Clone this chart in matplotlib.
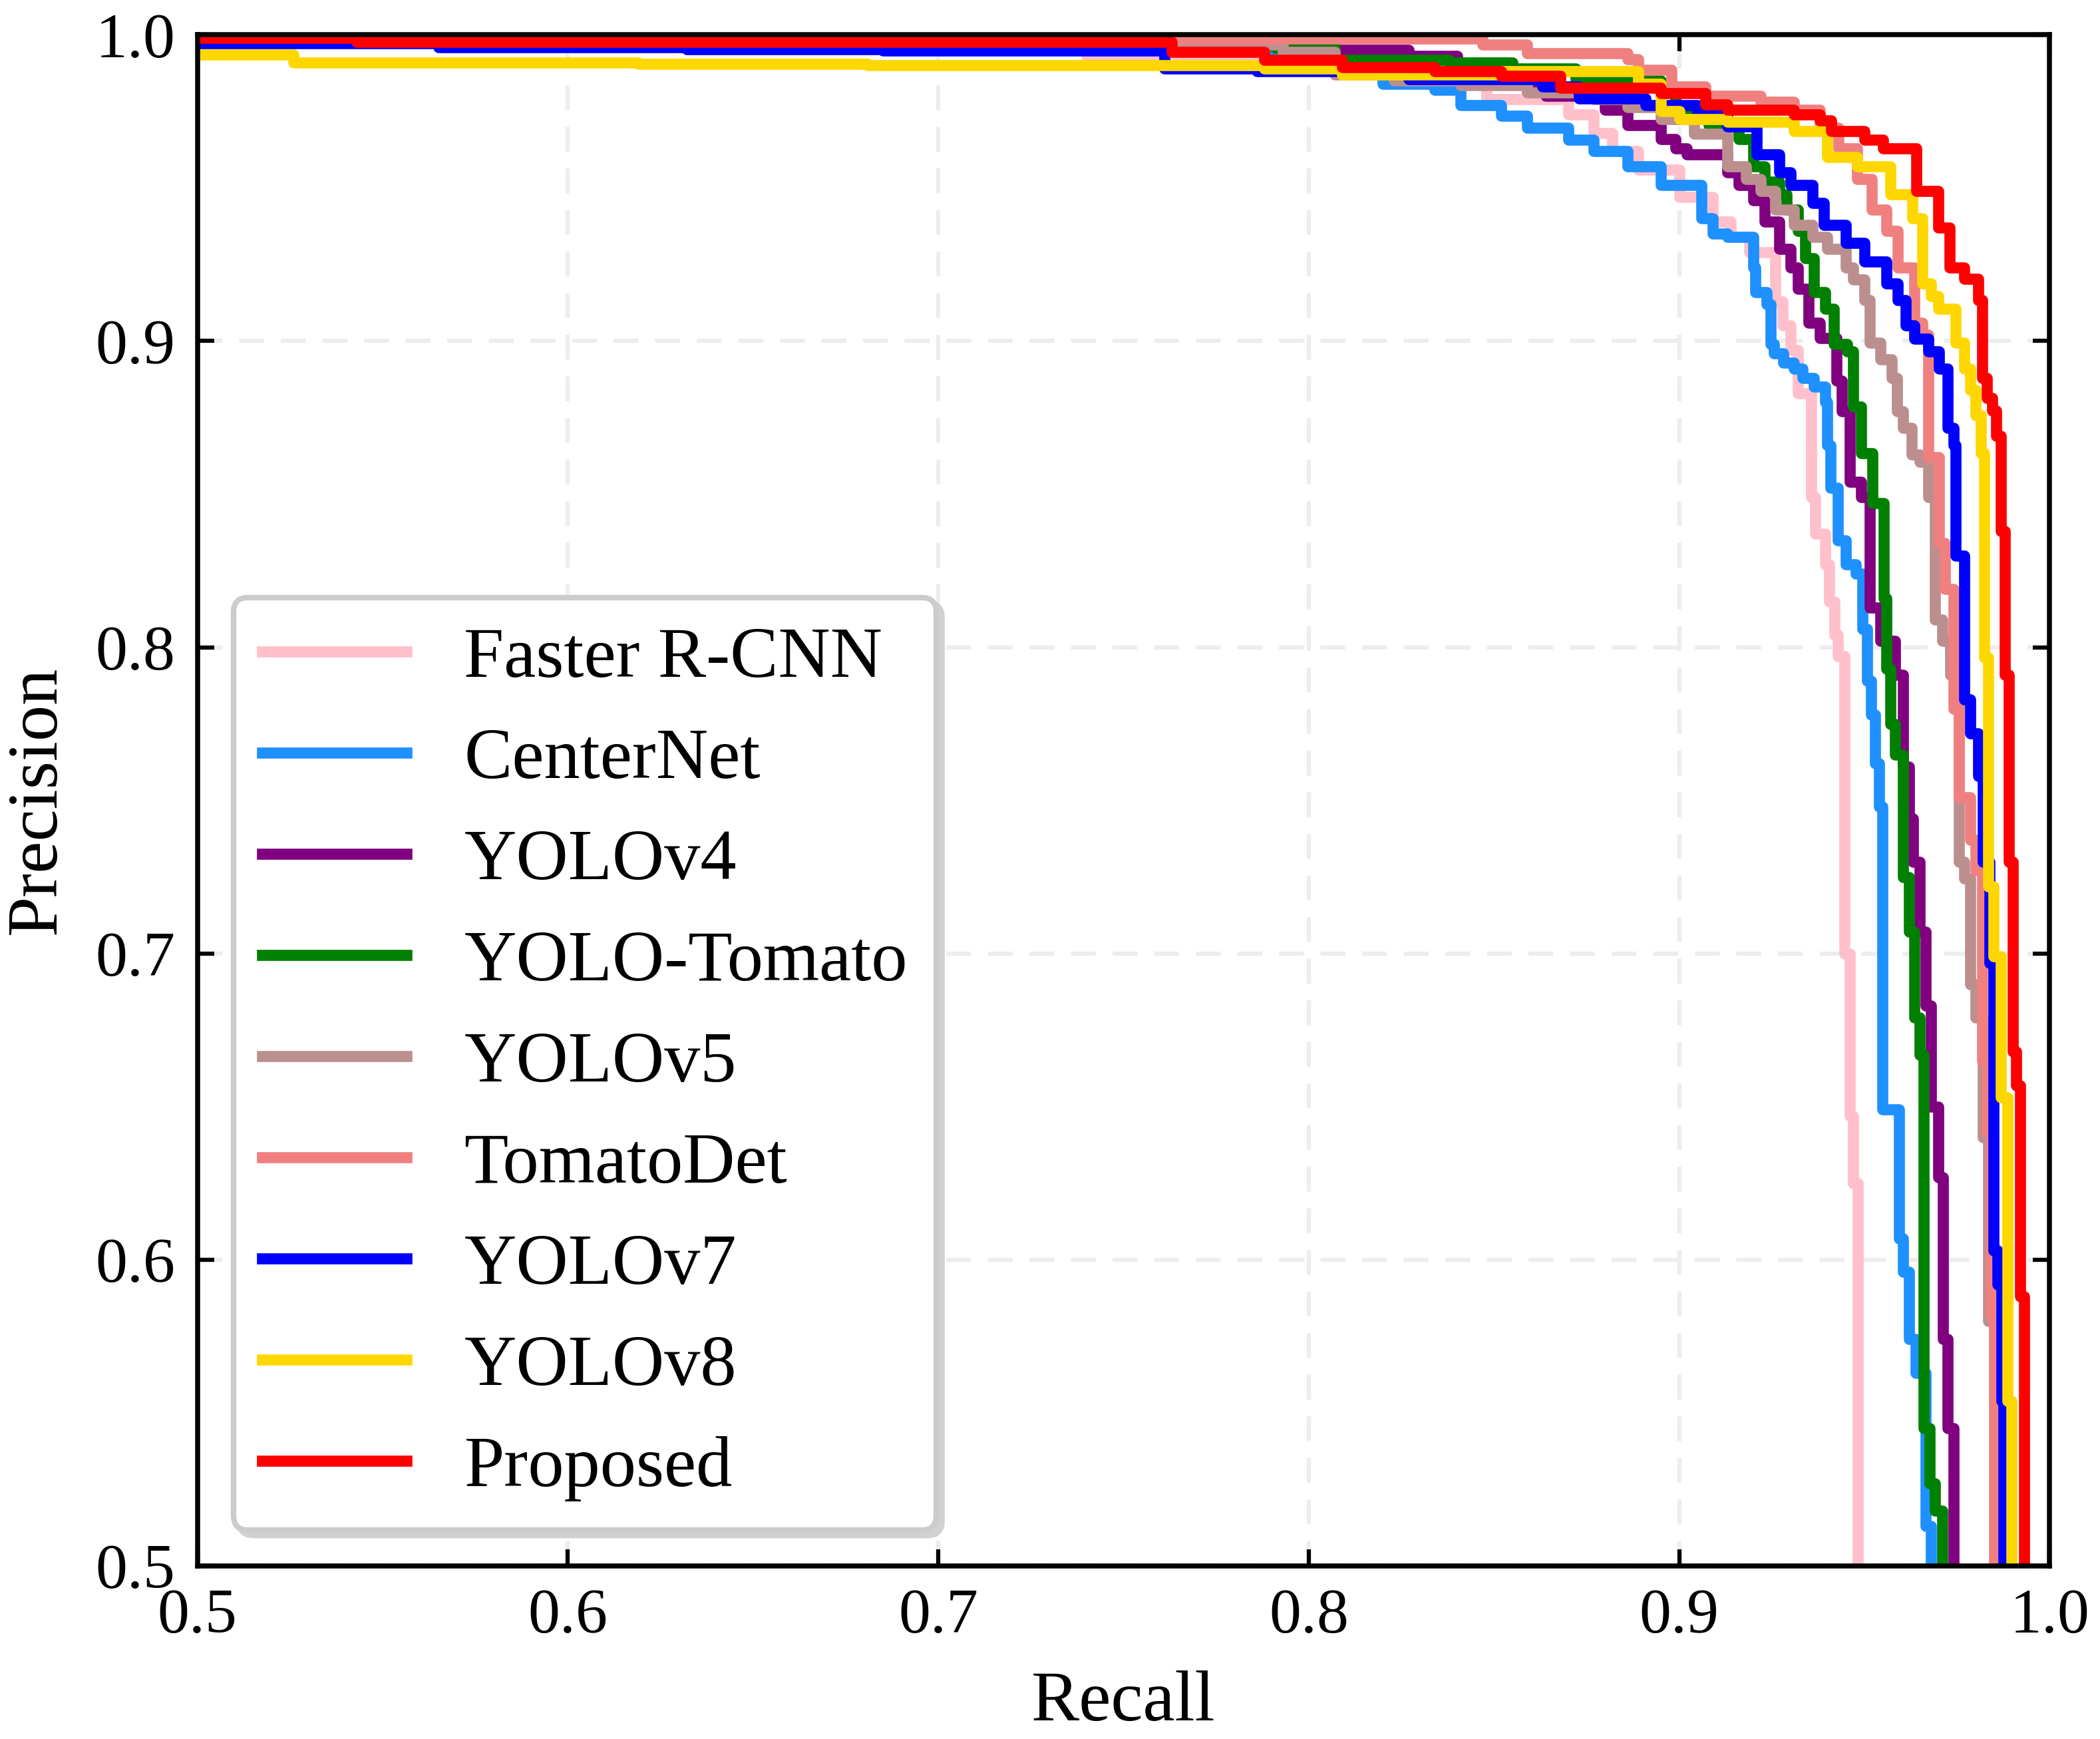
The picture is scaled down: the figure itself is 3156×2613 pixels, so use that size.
import matplotlib
matplotlib.use('Agg')
import matplotlib.pyplot as plt

plt.rcParams['font.family'] = ['Liberation Serif', 'DejaVu Serif']

# (recall, precision) step points
faster_r = [0.40, 0.66, 0.74, 0.80, 0.83, 0.848, 0.870, 0.877, 0.882, 0.889, 0.900, 0.909, 0.914, 0.919, 0.926, 0.928,
            0.930, 0.932, 0.9356, 0.9368, 0.9394, 0.9405, 0.942, 0.9428, 0.9447, 0.946, 0.9469, 0.9482]
faster_p = [1.0, 0.997, 0.993, 0.988, 0.984, 0.979, 0.974, 0.968, 0.962, 0.956, 0.947, 0.939, 0.934, 0.929, 0.913, 0.905,
            0.897, 0.883, 0.849, 0.837, 0.827, 0.815, 0.804, 0.797, 0.700, 0.647, 0.625, 0.45]

center_r = [0.40, 0.62, 0.74, 0.79, 0.80, 0.81, 0.82, 0.834, 0.841, 0.852, 0.859, 0.870, 0.877, 0.886, 0.895, 0.906,
            0.909, 0.913, 0.920, 0.9206, 0.9236, 0.9247, 0.9255, 0.9281, 0.931, 0.9334, 0.9364, 0.9394, 0.940, 0.9409,
            0.9428, 0.945, 0.9477, 0.9495, 0.9507, 0.9518, 0.9529, 0.954, 0.9548, 0.9593, 0.9604, 0.962, 0.9638,
            0.9665, 0.968]
center_p = [0.999, 0.997, 0.995, 0.992, 0.989, 0.987, 0.984, 0.982, 0.977, 0.9735, 0.9696, 0.9657, 0.962, 0.957, 0.951,
            0.940, 0.935, 0.934, 0.924, 0.916, 0.912, 0.899, 0.896, 0.893, 0.891, 0.888, 0.885, 0.880, 0.866, 0.852,
            0.835, 0.827, 0.824, 0.806, 0.789, 0.778, 0.762, 0.748, 0.649, 0.607, 0.596, 0.574, 0.563, 0.513, 0.45]

v4_r = [0.40, 0.70, 0.768, 0.786, 0.800, 0.807, 0.827, 0.840, 0.850, 0.859, 0.864, 0.880, 0.886, 0.895, 0.899, 0.902,
        0.913, 0.916, 0.920, 0.923, 0.927, 0.930, 0.932, 0.935, 0.938, 0.9424, 0.9439, 0.946, 0.9491, 0.9514, 0.9544,
        0.9582, 0.9605, 0.962, 0.9631, 0.965, 0.9665, 0.968, 0.970, 0.9713, 0.9725, 0.974]
v4_p = [1.0, 0.999, 0.9977, 0.9967, 0.996, 0.995, 0.993, 0.989, 0.985, 0.982, 0.980, 0.9754, 0.9705, 0.966, 0.963, 0.961,
        0.955, 0.951, 0.946, 0.939, 0.930, 0.924, 0.917, 0.906, 0.901, 0.887, 0.877, 0.854, 0.849, 0.813, 0.802,
        0.791, 0.761, 0.744, 0.730, 0.707, 0.683, 0.650, 0.627, 0.574, 0.545, 0.45]

tomato_r = [0.40, 0.60, 0.66, 0.72, 0.791, 0.807, 0.838, 0.855, 0.872, 0.881, 0.895, 0.899, 0.904, 0.908, 0.916, 0.920,
            0.923, 0.927, 0.929, 0.932, 0.934, 0.9364, 0.9394, 0.9417, 0.9454, 0.947, 0.9492, 0.9522, 0.9552, 0.956,
            0.9571, 0.9582, 0.9605, 0.962, 0.9635, 0.965, 0.966, 0.9676, 0.969, 0.971]
tomato_p = [1.0, 0.999, 0.9975, 0.9965, 0.9958, 0.9919, 0.991, 0.989, 0.9856, 0.985, 0.982, 0.976, 0.9744, 0.9705, 0.966,
            0.957, 0.952, 0.948, 0.943, 0.936, 0.927, 0.916, 0.9105, 0.899, 0.8966, 0.8786, 0.8633, 0.847, 0.816, 0.793,
            0.775, 0.765, 0.725, 0.707, 0.679, 0.667, 0.545, 0.527, 0.518, 0.45]

v5_r = [0.40, 0.70, 0.763, 0.793, 0.807, 0.823, 0.841, 0.859, 0.877, 0.886, 0.895, 0.904, 0.913, 0.918, 0.922, 0.926,
        0.931, 0.936, 0.940, 0.945, 0.947, 0.950, 0.9514, 0.9544, 0.9574, 0.9589, 0.9605, 0.9627, 0.965, 0.9672, 0.969,
        0.971, 0.9732, 0.9755, 0.977, 0.9785, 0.980, 0.982, 0.9835, 0.9855]
v5_p = [1.0, 0.998, 0.9967, 0.9943, 0.987, 0.985, 0.9836, 0.9812, 0.979, 0.9764, 0.9725, 0.9676, 0.957, 0.953, 0.949, 0.943,
        0.938, 0.934, 0.930, 0.924, 0.920, 0.9133, 0.8994, 0.894, 0.888, 0.877, 0.8717, 0.863, 0.8606, 0.849, 0.809,
        0.802, 0.791, 0.730, 0.7246, 0.690, 0.679, 0.640, 0.580, 0.45]

tdet_r = [0.40, 0.734, 0.847, 0.859, 0.886, 0.889, 0.898, 0.907, 0.922, 0.931, 0.938, 0.943, 0.948, 0.952, 0.956, 0.959,
          0.9635, 0.9657, 0.9672, 0.9702, 0.9717, 0.974, 0.9755, 0.9785, 0.980, 0.9819, 0.983, 0.9841, 0.985]
tdet_p = [1.0, 0.9987, 0.9967, 0.994, 0.992, 0.9885, 0.983, 0.980, 0.978, 0.9754, 0.9696, 0.963, 0.953, 0.943, 0.936, 0.924,
          0.906, 0.902, 0.862, 0.834, 0.819, 0.780, 0.751, 0.737, 0.727, 0.665, 0.642, 0.582, 0.45]

v7_r = [0.40, 0.565, 0.632, 0.685, 0.761, 0.786, 0.827, 0.863, 0.873, 0.891, 0.905, 0.913, 0.921, 0.927, 0.930, 0.936,
        0.939, 0.945, 0.950, 0.9559, 0.959, 0.9612, 0.9635, 0.9672, 0.9702, 0.9725, 0.974, 0.9747, 0.977, 0.9785,
        0.9807, 0.982, 0.9837, 0.9849, 0.986, 0.9871, 0.9876]
v7_p = [0.9972, 0.996, 0.9952, 0.9948, 0.989, 0.988, 0.9856, 0.983, 0.9793, 0.977, 0.9744, 0.970, 0.961, 0.955, 0.951,
        0.945, 0.938, 0.932, 0.926, 0.9188, 0.9133, 0.905, 0.9008, 0.8966, 0.891, 0.8717, 0.866, 0.830, 0.783, 0.7718,
        0.758, 0.730, 0.697, 0.603, 0.592, 0.554, 0.45]

v8_r = [0.40, 0.526, 0.619, 0.681, 0.788, 0.809, 0.852, 0.889, 0.895, 0.900, 0.913, 0.931, 0.940, 0.948, 0.957, 0.963,
        0.9657, 0.968, 0.970, 0.9747, 0.977, 0.9785, 0.980, 0.9815, 0.9823, 0.9834, 0.9849, 0.9868, 0.9887, 0.9898]
v8_p = [0.9935, 0.991, 0.9905, 0.990, 0.989, 0.987, 0.988, 0.984, 0.975, 0.9725, 0.9715, 0.9686, 0.960, 0.957, 0.948, 0.940,
        0.9188, 0.9147, 0.9105, 0.8994, 0.891, 0.884, 0.8758, 0.8633, 0.7967, 0.7218, 0.699, 0.653, 0.554, 0.45]

prop_r = [0.40, 0.543, 0.763, 0.788, 0.809, 0.834, 0.852, 0.868, 0.895, 0.907, 0.913, 0.931, 0.938, 0.941, 0.950, 0.955,
          0.964, 0.970, 0.973, 0.977, 0.9807, 0.9819, 0.983, 0.9845, 0.9856, 0.9868, 0.9879, 0.989, 0.9901, 0.991,
          0.992, 0.9932]
prop_p = [0.9989, 0.9977, 0.9943, 0.9919, 0.9895, 0.988, 0.9866, 0.9827, 0.981, 0.9773, 0.9754, 0.974, 0.972, 0.9686,
          0.9657, 0.9628, 0.949, 0.937, 0.924, 0.9202, 0.9133, 0.888, 0.8814, 0.8772, 0.869, 0.838, 0.791, 0.730,
          0.668, 0.657, 0.588, 0.45]

labels = ['Faster R-CNN', 'CenterNet', 'YOLOv4', 'YOLO-Tomato', 'YOLOv5', 'TomatoDet', 'YOLOv7', 'YOLOv8', 'Proposed']
colors = ['pink', 'dodgerblue', 'purple', 'green', 'rosybrown', 'lightcoral', 'blue', 'gold', 'red']
curves = [(faster_r, faster_p), (center_r, center_p), (v4_r, v4_p), (tomato_r, tomato_p), (v5_r, v5_p),
          (tdet_r, tdet_p), (v7_r, v7_p), (v8_r, v8_p), (prop_r, prop_p)]

fig = plt.figure(figsize=(10.52, 8.71), dpi=300)
ax = fig.add_axes([0.094, 0.0995, 0.882, 0.8805])

for (r, p), lab, c in zip(curves, labels, colors):
    ax.plot(r, p, drawstyle='steps-post', color=c, lw=4, label=lab)

ax.set_xlim(0.5, 1.0)
ax.set_ylim(0.5, 1.0)
ax.set_xticks([0.5, 0.6, 0.7, 0.8, 0.9, 1.0])
ax.set_yticks([0.5, 0.6, 0.7, 0.8, 0.9, 1.0])
ax.grid(True, ls='--', lw=1.5, color='0.93', dashes=(6, 4))
ax.set_axisbelow(True)
ax.tick_params(direction='in', top=True, right=True, length=6, width=1.5, labelsize=23, pad=8)
for s in ax.spines.values():
    s.set_linewidth(1.8)

ax.set_xlabel('Recall', fontsize=26, labelpad=9)
ax.set_ylabel('Precision', fontsize=26, labelpad=9)

leg = ax.legend(loc='lower left', fontsize=26, frameon=True, fancybox=True, framealpha=1,
                edgecolor='0.8', shadow={'color': '0.82', 'alpha': 1}, handlelength=2.0,
                labelspacing=0.49, handletextpad=0.8)
leg.get_frame().set_linewidth(2)

fig.savefig('out.png', dpi=300)
